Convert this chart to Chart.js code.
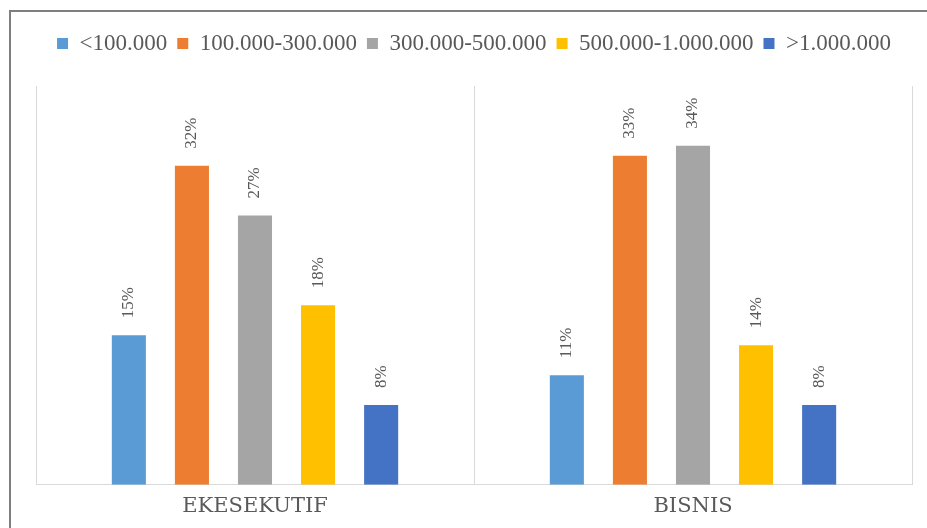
<!DOCTYPE html>
<html lang="en">
<head>
    <meta charset="UTF-8">
    <title>Pengeluaran per kelas</title>
    <script src="https://cdn.jsdelivr.net/npm/chart.js"></script>
    <style>
        body { margin: 0; background: #fff; overflow: hidden; }
        /* dark frame round the chart, cut off on the right and bottom like the screenshot */
        #frame { position: absolute; left: 9px; top: 10px; width: 1000px; height: 1000px; border: 2px solid #7f7f7f; }
        #wrap { position: absolute; left: 0; top: 0; width: 927px; height: 528px; }
    </style>
</head>
<body>
    <div id="frame"></div>
    <div id="wrap"><canvas id="chart" width="927" height="528"></canvas></div>

    <script>
        const categories = ['EKESEKUTIF', 'BISNIS'];
        const seriesNames = ['<100.000', '100.000-300.000', '300.000-500.000', '500.000-1.000.000', '>1.000.000'];
        const seriesColors = ['#5B9BD5', '#ED7D31', '#A5A5A5', '#FFC000', '#4472C4'];

        // percentages per class
        const under100k = [15, 11];
        const from100kTo300k = [32, 33];
        const from300kTo500k = [27, 34];
        const from500kTo1m = [18, 14];
        const over1m = [8, 8];

        const seriesValues = [under100k, from100kTo300k, from300kTo500k, from500kTo1m, over1m];

        // extra room under the legend
        const legendSpacing = {
            id: 'legendSpacing',
            beforeInit(chart) {
                const fit = chart.legend.fit;
                chart.legend.fit = function () {
                    fit.call(this);
                    this.height += 21;
                };
            }
        };

        // rotated value labels above each bar
        const barLabels = {
            id: 'barLabels',
            afterDatasetsDraw(chart) {
                const ctx = chart.ctx;
                ctx.save();
                ctx.font = '17px "Liberation Serif"';
                ctx.fillStyle = '#595959';
                ctx.textAlign = 'left';
                ctx.textBaseline = 'middle';
                chart.data.datasets.forEach((ds, i) => {
                    chart.getDatasetMeta(i).data.forEach((bar, j) => {
                        ctx.save();
                        ctx.translate(bar.x, bar.y - 17);
                        ctx.rotate(-Math.PI / 2);
                        ctx.fillText(ds.data[j] + '%', 0, 0);
                        ctx.restore();
                    });
                });
                ctx.restore();
            }
        };

        const chart = new Chart(document.getElementById('chart').getContext('2d'), {
            type: 'bar',
            data: {
                labels: categories,
                datasets: seriesNames.map((name, i) => ({
                    label: name,
                    data: seriesValues[i],
                    backgroundColor: seriesColors[i],
                    categoryPercentage: 0.72,
                    barPercentage: 0.54
                }))
            },
            options: {
                responsive: false,
                animation: false,
                layout: { padding: { left: 36, right: 15, top: 22, bottom: 0 } },
                plugins: {
                    legend: {
                        position: 'top',
                        labels: {
                            boxWidth: 11,
                            boxHeight: 11,
                            padding: 10,
                            color: '#595959',
                            font: { family: '"Liberation Serif"', size: 23 }
                        }
                    },
                    tooltip: { enabled: false }
                },
                scales: {
                    x: {
                        grid: { display: true, offset: true, color: '#d9d9d9', drawTicks: false },
                        border: { display: true, color: '#d9d9d9' },
                        ticks: {
                            padding: 9,
                            color: '#595959',
                            font: { family: '"DejaVu Serif"', size: 21 }
                        }
                    },
                    y: {
                        display: false,
                        min: 0,
                        max: 40
                    }
                }
            },
            plugins: [legendSpacing, barLabels]
        });
    </script>
</body>
</html>
